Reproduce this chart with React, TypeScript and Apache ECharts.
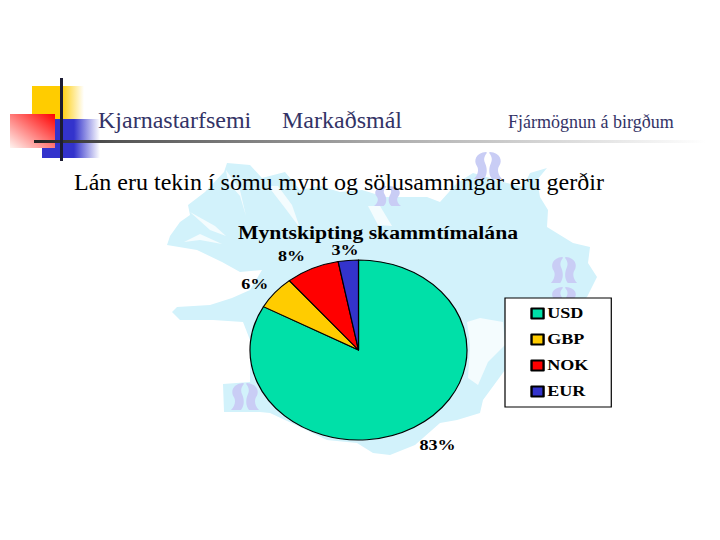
import React, { useEffect, useRef } from "react";
import * as echarts from "echarts";

const categories = ["USD", "GBP", "NOK", "EUR"];
const shares = [83, 6, 8, 3];
const sliceColors = ["#00E0A8", "#FFCC00", "#FF0000", "#3333CC"];
const chartTitle = "Myntskipting skammtímalána";
const headerItems = ["Kjarnastarfsemi", "Markaðsmál", "Fjármögnun á birgðum"];
const subtitle = "Lán eru tekin í sömu mynt og sölusamningar eru gerðir";

const STRETCH = 108.5 / 90;
const SERIF = "'Liberation Serif', serif";

const icelandOutline = [
  [227, 163], [250, 165], [262, 178], [285, 172], [300, 190], [320, 186], [340, 192],
  [362, 190], [385, 197], [410, 197], [427, 197], [440, 202], [457, 183], [473, 173], [490, 178], [507, 183], [523, 187],
  [530, 173], [547, 168], [537, 180], [540, 197], [548, 210], [547, 227], [573, 243], [590, 247], [588, 263], [597, 277],
  [587, 297], [560, 320], [530, 345], [505, 370], [483, 400], [480, 413], [457, 420], [440, 423], [415, 445], [390, 455],
  [373, 453], [357, 443], [327, 440], [300, 427], [270, 413], [260, 412], [224, 412], [223, 384], [250, 382], [250, 340],
  [243, 322], [213, 320], [180, 320], [172, 312], [177, 307], [210, 305], [232, 298], [250, 290], [262, 270], [240, 272],
  [222, 262], [197, 250], [167, 245], [170, 236], [180, 222], [190, 215], [188, 205], [205, 192], [224, 172],
];
const whiteFjords = [
  [[467, 322], [480, 318], [503, 322], [505, 345], [488, 362], [478, 385], [468, 378], [470, 345]],
  [[226, 170], [240, 190], [246, 216], [240, 196], [228, 182]],
  [[268, 186], [285, 208], [300, 228], [292, 205], [278, 186]],
  [[368, 206], [378, 225], [392, 226], [380, 206]],
  [[190, 212], [215, 226], [226, 236], [210, 230]],
  [[184, 242], [200, 234], [222, 244], [200, 240]],
];
const logoBoxes = [
  [473, 152, 30, 27], [373, 186, 29, 20], [550, 257, 28, 26], [550, 287, 28, 22], [230, 383, 30, 27],
];
const LOGO_PATH =
  "M13 0C3 1 0 10 4 17C6 21 5 27 1 32L11 32C15 26 14 18 12 13C10 8 12 4 14 1ZM17 0C27 1 30 10 26 17C24 21 25 27 29 32L19 32C15 26 16 18 18 13C20 8 18 4 16 1Z";
echarts.graphic.registerShape("srlogo", echarts.graphic.extendPath(LOGO_PATH, {}) as any);

const labelNudges = [[-4, 12], [5, -5], [2, -7], [17, -4]];

const linear = (x: number, y: number, x2: number, y2: number, stops: [number, string][]) =>
  new echarts.graphic.LinearGradient(x, y, x2, y2, stops.map(([offset, color]) => ({ offset, color })));

const serifText = (text: string, x: number, baseline: number, fontSize: number, fill: string) => ({
  type: "text",
  x,
  y: baseline - fontSize * 0.89,
  style: { text, fontSize, fontFamily: SERIF, fill, verticalAlign: "top", textBaseline: "top" },
});

export default function App() {
  const backRef = useRef<HTMLDivElement>(null);
  const frontRef = useRef<HTMLDivElement>(null);

  useEffect(() => {
    document.body.style.margin = "0";
    const back = echarts.init(backRef.current!, undefined, { renderer: "svg" });
    const front = echarts.init(frontRef.current!, undefined, { renderer: "svg" });
    const graphics: any[] = [
      { type: "polygon", shape: { points: icelandOutline }, style: { fill: "#D2F2FB" } },
      ...whiteFjords.map((points) => ({ type: "polygon", shape: { points }, style: { fill: "#F4FCFE" } })),
      ...logoBoxes.map(([x, y, w, h]) => ({
        type: "srlogo", x, y, scaleX: w / 30, scaleY: h / 32,
        style: { fill: "#C9CDF5" },
      })),
      { type: "rect", shape: { x: 32, y: 86, width: 52, height: 54 }, style: { fill: linear(0, 0, 1, 0, [[0, "#FFCC00"], [0.55, "#FFCC00"], [1, "#FFFFFF"]]) } },
      { type: "rect", shape: { x: 42, y: 119, width: 58, height: 39 }, style: { fill: linear(0, 0, 1, 0, [[0, "#3333CC"], [0.55, "#3333CC"], [1, "#FFFFFF"]]) } },
      { type: "rect", shape: { x: 10, y: 114, width: 45, height: 34 }, style: { fill: linear(1, 0, 0, 1, [[0, "#FF0000"], [1, "#FFF4F0"]]) } },
      { type: "rect", shape: { x: 34, y: 140, width: 686, height: 3 }, style: { fill: linear(0, 0, 1, 0, [[0, "#222222"], [0.12, "#555555"], [0.5, "#AAAAAA"], [0.98, "#FFFFFF"]]) } },
      { type: "rect", shape: { x: 60, y: 78, width: 3, height: 83 }, style: { fill: "#1C1C33" } },
      serifText(headerItems[0], 98, 129, 24, "#333366"),
      serifText(headerItems[1], 282, 129, 24, "#333366"),
      serifText(headerItems[2], 508, 129, 18, "#333366"),
      serifText(subtitle, 74, 191, 24, "#000000"),
    ];
    back.setOption({ animation: false, graphic: graphics });
    front.setOption({
      animation: false,
      backgroundColor: "transparent",
      title: {
        text: chartTitle,
        left: 378 / STRETCH,
        top: 224,
        textAlign: "center",
        textStyle: { fontFamily: SERIF, fontWeight: "bold", fontSize: 18, color: "#000" },
        padding: 0,
      },
      legend: {
        orient: "vertical",
        left: 505 / STRETCH,
        top: 298,
        data: categories,
        icon: "rect",
        itemWidth: 10,
        itemHeight: 10,
        itemGap: 11,
        backgroundColor: "#FFFFFF",
        borderColor: "#000",
        borderWidth: 1,
        padding: [8, 19, 8, 21],
        selectedMode: false,
        textStyle: { fontFamily: SERIF, fontWeight: "bold", fontSize: 15, color: "#000", padding: [0, 0, 0, -2] },
      },
      series: [
        {
          type: "pie",
          center: [358.5 / STRETCH, 350],
          radius: [0, 90],
          startAngle: 90,
          clockwise: true,
          avoidLabelOverlap: false,
          data: categories.map((name, i) => ({ name, value: shares[i], itemStyle: { color: sliceColors[i] } })),
          itemStyle: { borderColor: "#000", borderWidth: 1 },
          label: {
            show: true,
            position: "outside",
            formatter: "{c}%",
            fontFamily: SERIF,
            fontWeight: "bold",
            fontSize: 15,
            color: "#000",
          },
          labelLine: { show: false, length: 6, length2: 0 },
          labelLayout: (p: any) => ({ dx: labelNudges[p.dataIndex][0] / STRETCH, dy: labelNudges[p.dataIndex][1] }),
        },
      ],
    });
    return () => {
      back.dispose();
      front.dispose();
    };
  }, []);

  return (
    <div style={{ position: "fixed", left: 0, top: 0, width: 720, height: 540, overflow: "hidden", background: "#fff" }}>
      <div ref={backRef} style={{ position: "absolute", left: 0, top: 0, width: 720, height: 540 }} />
      <div
        ref={frontRef}
        style={{
          position: "absolute", left: 0, top: 0, width: 720 / STRETCH, height: 540,
          transformOrigin: "0 0", transform: `scaleX(${STRETCH})`,
        }}
      />
    </div>
  );
}
